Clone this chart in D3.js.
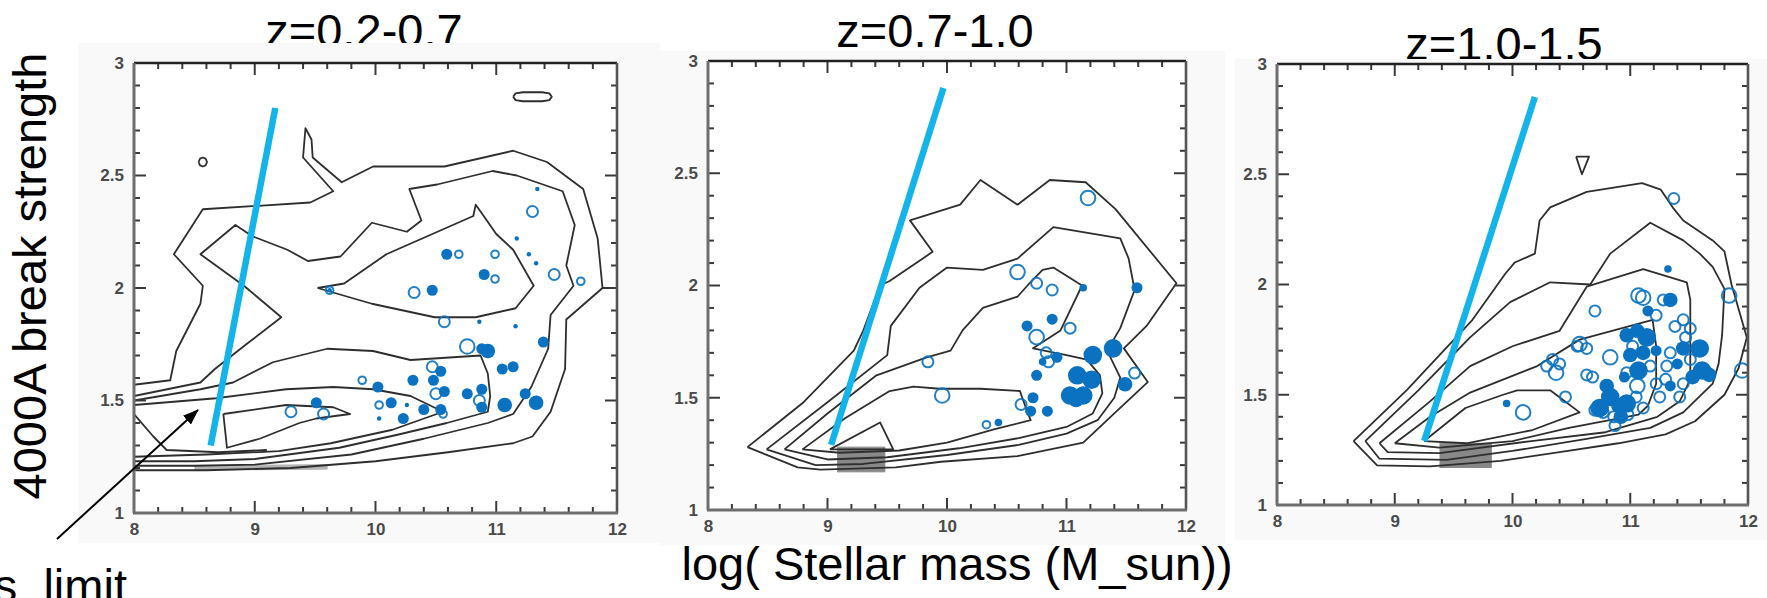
<!DOCTYPE html>
<html><head><meta charset="utf-8">
<script src="https://cdn.jsdelivr.net/npm/d3@7"></script>
<style>html,body{margin:0;padding:0;background:#fff;overflow:hidden}svg{display:block}</style>
</head><body>
<svg id="chart" width="1767" height="598"></svg>
<script>
// ---------------- DATA ----------------
const titles = ["z=0.2-0.7", "z=0.7-1.0", "z=1.0-1.5"];
const xTickValues = [8, 9, 10, 11, 12];
const yTickValues = [1, 1.5, 2, 2.5, 3];
const xTickLabels = ["8", "9", "10", "11", "12"];
const yTickLabels = ["1", "1.5", "2", "2.5", "3"];
const yAxisTitle = "4000A break strength";
const xAxisTitle = "log( Stellar mass (M_sun))";
const noteText = "mass_limit";

// contour polylines [logM, D4000]
const contours1 = [
  [[8,1.57],[8.30,1.59],[8.35,1.72],[8.55,1.93],[8.57,2.01],[8.33,2.15],[8.57,2.35],[9.46,2.38],[9.65,2.43],[9.40,2.58],[9.42,2.71],[9.47,2.66],[9.48,2.58],[9.72,2.47],[9.98,2.54],[10.57,2.54],[11.14,2.61],[11.42,2.56],[11.72,2.44],[11.84,2.22],[11.88,2.0],[12,2.0]],
  [[11.88,2.0],[11.58,1.86],[11.57,1.64],[11.45,1.45],[11.30,1.34],[11.14,1.31],[10.6,1.27],[10.0,1.23],[9.3,1.20],[8.6,1.19],[8,1.19]],
  [[8,1.52],[8.55,1.58],[8.67,1.64],[8.93,1.75],[9.22,1.87],[8.91,2.01],[8.55,2.15],[8.84,2.28],[8.98,2.23],[9.27,2.17],[9.44,2.12],[9.71,2.14],[9.97,2.29],[10.26,2.25],[10.38,2.30],[10.28,2.44],[10.51,2.46],[10.97,2.52],[11.17,2.50],[11.55,2.43],[11.65,2.28],[11.58,2.10],[11.64,2.01],[11.45,1.88],[11.43,1.73],[11.29,1.56],[11.14,1.44],[10.93,1.40],[10.4,1.33],[9.8,1.26],[9.0,1.215],[8.5,1.21],[8,1.21]],
  [[8,1.50],[8.55,1.55],[8.82,1.58],[9.15,1.67],[9.60,1.73],[9.98,1.72],[10.29,1.68],[10.87,1.70],[10.93,1.62],[10.95,1.52],[10.93,1.45],[10.59,1.40],[10.2,1.35],[9.7,1.29],[9.0,1.24],[8.5,1.23],[8,1.23]],
  [[8,1.48],[8.68,1.51],[9.26,1.55],[9.65,1.56],[9.98,1.55],[10.29,1.52],[10.56,1.45],[10.14,1.37],[9.63,1.31],[9.2,1.275],[8.6,1.26],[8,1.25]],
  [[8.74,1.44],[9.26,1.48],[9.65,1.47],[9.79,1.44],[9.51,1.42],[9.37,1.40],[9.04,1.33],[8.77,1.29],[8.74,1.44]],
  [[8,1.44],[8.16,1.34],[8.27,1.28],[8.7,1.27],[9.1,1.28]],
  [[9.52,2.0],[9.74,2.02],[10.09,2.15],[10.81,2.32],[10.83,2.37],[10.87,2.34],[11.0,2.24],[11.14,2.17],[11.31,2.01],[11.16,1.91],[10.83,1.87],[10.49,1.87],[9.97,1.93],[9.52,2.0]],
  [[11.14,2.85],[11.16,2.865],[11.22,2.87],[11.38,2.87],[11.44,2.865],[11.46,2.85],[11.44,2.835],[11.38,2.83],[11.22,2.83],[11.16,2.835],[11.14,2.85]],
  [[8.535,2.56],[8.547,2.575],[8.57,2.58],[8.593,2.575],[8.605,2.56],[8.593,2.545],[8.57,2.54],[8.547,2.545],[8.535,2.56]]
];
const contours2 = [
  [[8.33,1.28],[8.8,1.48],[9.22,1.71],[9.30,1.80],[9.44,2.0],[9.52,2.02],[9.88,2.15],[9.69,2.29],[10.11,2.36],[10.28,2.47],[10.59,2.36],[10.86,2.47],[11.16,2.46],[11.41,2.34],[11.92,2.01],[11.67,1.82],[11.48,1.72],[11.68,1.57],[11.40,1.43],[11.14,1.30],[10.59,1.24],[9.95,1.215],[9.57,1.19],[8.94,1.18],[8.75,1.19],[8.33,1.28]],
  [[8.49,1.27],[9.0,1.48],[9.50,1.69],[9.53,1.82],[9.77,1.99],[10.0,2.08],[10.30,2.07],[10.59,2.12],[10.89,2.26],[11.45,2.21],[11.52,2.12],[11.57,1.98],[11.45,1.81],[11.34,1.71],[11.45,1.59],[11.40,1.50],[11.26,1.40],[11.0,1.34],[10.6,1.29],[10.0,1.245],[9.3,1.205],[8.9,1.20],[8.49,1.27]],
  [[8.64,1.27],[9.0,1.43],[9.41,1.60],[9.83,1.68],[10.03,1.71],[10.13,1.80],[10.30,1.90],[10.59,1.95],[10.69,2.01],[10.80,2.07],[10.89,2.08],[11.13,2.0],[10.95,1.80],[10.72,1.72],[11.0,1.69],[11.17,1.67],[11.28,1.60],[11.30,1.52],[11.22,1.43],[11.0,1.37],[10.6,1.32],[10.1,1.275],[9.5,1.235],[9.0,1.225],[8.64,1.27]],
  [[8.79,1.27],[9.15,1.41],[9.52,1.53],[9.72,1.55],[9.94,1.54],[10.28,1.54],[10.61,1.53],[10.67,1.44],[10.70,1.40],[10.4,1.36],[10.0,1.30],[9.6,1.265],[9.1,1.255],[8.79,1.27]],
  [[9.02,1.27],[9.44,1.39],[9.55,1.27],[9.02,1.27]]
];
const contours3 = [
  [[8.65,1.29],[9.1,1.52],[9.66,1.84],[9.94,2.05],[10.02,2.10],[10.19,2.14],[10.23,2.29],[10.32,2.35],[10.63,2.42],[11.10,2.46],[11.26,2.43],[11.36,2.35],[11.45,2.29],[11.70,2.20],[11.80,2.15],[11.86,2.0],[11.99,1.76],[11.92,1.62],[11.80,1.50],[11.55,1.38],[11.30,1.32],[10.9,1.28],[10.4,1.24],[9.9,1.20],[9.3,1.175],[8.85,1.18],[8.65,1.29]],
  [[8.75,1.29],[9.2,1.52],[9.64,1.76],[9.98,1.92],[10.32,2.01],[10.66,2.0],[10.83,2.14],[11.17,2.28],[11.45,2.20],[11.59,2.14],[11.70,2.08],[11.80,1.98],[11.78,1.77],[11.75,1.64],[11.70,1.55],[11.45,1.42],[11.17,1.35],[10.63,1.30],[10.0,1.245],[9.44,1.205],[8.87,1.21],[8.75,1.29]],
  [[8.87,1.28],[9.3,1.47],[9.64,1.63],[10.0,1.72],[10.40,1.79],[10.63,1.99],[11.11,2.07],[11.48,2.01],[11.51,1.93],[11.51,1.75],[11.51,1.57],[11.42,1.47],[11.23,1.40],[10.79,1.33],[10.16,1.29],[9.38,1.235],[8.94,1.24],[8.87,1.28]],
  [[9.0,1.28],[9.3,1.40],[9.64,1.51],[10.21,1.63],[10.57,1.75],[11.19,1.84],[11.22,1.72],[11.22,1.55],[11.15,1.45],[11.07,1.41],[10.48,1.35],[10.0,1.29],[9.38,1.26],[9.0,1.28]],
  [[9.25,1.29],[9.6,1.44],[9.92,1.50],[10.04,1.52],[10.32,1.52],[10.57,1.42],[10.17,1.34],[9.61,1.28],[9.25,1.29]],
  [[10.54,2.58],[10.65,2.58],[10.59,2.50],[10.54,2.58]]
];
// densest (filled) contour region
const dense1 = [[8.5,1.19],[9.6,1.195],[9.6,1.215],[8.5,1.21]];
const dense2 = [[9.08,1.17],[9.48,1.17],[9.48,1.28],[9.08,1.28]];
const dense3 = [[9.38,1.17],[9.82,1.17],[9.82,1.28],[9.38,1.28]];

// mass-completeness limit lines
const limit1 = [[8.635,1.30],[9.17,2.80]];
const limit2 = [[9.03,1.29],[9.97,2.88]];
const limit3 = [[9.25,1.29],[10.19,2.85]];

// galaxies: [logM, D4000, size class]
const filled1 = [[11.34,2.44,1],[11.17,2.22,1],[11.27,2.15,1],[11.33,2.11,1],[10.59,2.15,3],[10.90,2.06,3],[10.47,1.99,3],[10.86,1.85,1],[11.16,1.83,1],[11.39,1.76,3],[10.93,1.72,4],[10.88,1.73,3],[11.05,1.64,3],[11.14,1.65,3],[10.54,1.63,3],[10.02,1.56,3],[10.31,1.59,3],[10.48,1.59,3],[10.57,1.54,3],[10.76,1.53,3],[10.88,1.55,3],[10.88,1.47,3],[11.07,1.48,4],[11.24,1.53,3],[11.33,1.49,4],[10.13,1.49,3],[10.26,1.48,1],[10.40,1.46,3],[10.54,1.46,3],[10.23,1.42,3],[10.03,1.42,1],[9.51,1.49,3],[9.62,1.99,1]];
const open1 = [[11.30,2.34,3],[11.48,2.06,3],[11.70,2.03,2],[10.99,2.15,2],[10.69,2.15,2],[10.99,2.04,2],[10.32,1.98,3],[9.62,1.99,2],[10.57,1.85,3],[10.76,1.74,4],[10.47,1.65,3],[9.89,1.59,2],[10.50,1.53,3],[10.86,1.50,3],[10.03,1.48,2],[10.56,1.44,2],[9.30,1.45,3],[9.57,1.44,3]];
const filled2 = [[11.14,1.99,2],[11.59,1.99,3],[10.67,1.82,3],[10.88,1.85,3],[10.92,1.68,3],[11.22,1.69,5],[11.39,1.72,5],[10.75,1.60,3],[11.09,1.60,5],[11.21,1.58,5],[11.03,1.51,5],[11.14,1.51,5],[11.08,1.49,4],[10.72,1.50,3],[11.49,1.56,4],[10.70,1.44,3],[10.84,1.44,3],[10.43,1.39,2],[10.80,1.66,2]];
const open2 = [[11.18,2.39,4],[10.59,2.06,4],[10.75,2.01,3],[10.88,1.98,3],[11.03,1.81,3],[10.75,1.77,4],[10.83,1.70,3],[10.85,1.66,3],[9.84,1.66,3],[9.96,1.51,4],[11.57,1.61,3],[10.62,1.47,3],[10.33,1.38,2]];
const filled3 = [[11.32,2.07,2],[11.34,1.93,4],[11.15,1.88,3],[11.06,1.79,4],[10.97,1.77,4],[11.14,1.76,5],[11.11,1.69,4],[11.22,1.70,3],[11.45,1.71,4],[11.07,1.61,5],[10.80,1.54,4],[10.83,1.49,5],[10.74,1.44,5],[10.97,1.46,5],[11.34,1.54,3],[9.95,1.46,2],[10.92,1.40,4],[11.59,1.71,5],[11.61,1.61,5],[11.67,1.59,4],[11.53,1.58,4],[10.90,1.45,4],[11.40,1.64,3],[11.00,1.68,4],[10.95,1.58,3]];
const open3 = [[11.37,2.39,3],[11.84,1.95,4],[11.95,1.61,4],[11.11,1.94,4],[10.70,1.88,3],[11.22,1.86,3],[11.45,1.84,3],[11.51,1.80,3],[11.47,1.76,3],[10.57,1.73,4],[10.63,1.71,3],[10.83,1.67,4],[11.02,1.72,3],[11.34,1.69,3],[11.51,1.66,3],[10.34,1.66,3],[10.29,1.63,3],[10.40,1.64,3],[10.37,1.60,4],[10.97,1.60,3],[11.17,1.63,3],[11.31,1.63,3],[10.68,1.58,3],[10.77,1.42,3],[11.06,1.54,4],[11.22,1.55,3],[11.45,1.55,3],[11.11,1.44,3],[11.25,1.49,3],[11.42,1.49,3],[10.45,1.49,3],[10.09,1.42,4],[10.70,1.43,3],[10.86,1.40,3],[10.87,1.36,3],[10.98,1.41,3],[10.63,1.59,3],[11.07,1.95,4],[11.28,1.93,3],[10.55,1.72,3],[11.38,1.81,3],[11.05,1.49,3],[11.30,1.57,3]];

// ---------------- LAYOUT ----------------
const panels = [
  {title: titles[0], contours: contours1, dense: dense1, denseFill: "#b4b4b4", limit: limit1, filled: filled1, open: open1,
   px: [134, 617], py: [513, 63], img: [78, 43, 582, 500], tpos: [364, 47]},
  {title: titles[1], contours: contours2, dense: dense2, denseFill: "#888", limit: limit2, filled: filled2, open: open2,
   px: [708, 1186], py: [510, 61], img: [660, 51, 565, 494], tpos: [935, 47]},
  {title: titles[2], contours: contours3, dense: dense3, denseFill: "#888", limit: limit3, filled: filled3, open: open3,
   px: [1277, 1748], py: [505, 64], img: [1235, 59, 532, 481], tpos: [1504, 60]}
];
const FONT = "'Liberation Sans', Arial, sans-serif";
const BLUE = "#0a72c0";
const CYAN = "#12b4ea";
const sizeR = d3.scaleOrdinal().domain([1,2,3,4,5]).range([2.2, 3.8, 5.5, 7.3, 9.3]);

const svg = d3.select("#chart");
const defs = svg.append("defs");
defs.append("marker").attr("id","arr").attr("viewBox","0 0 16 12").attr("refX",15).attr("refY",6)
  .attr("markerWidth",16).attr("markerHeight",12).attr("markerUnits","userSpaceOnUse").attr("orient","auto")
  .append("path").attr("d","M0,0 L16,6 L0,12 z").attr("fill","#000");

panels.forEach((p, i) => {
  const x = d3.scaleLinear().domain([8, 12]).range(p.px);
  const y = d3.scaleLinear().domain([1, 3]).range(p.py);
  const g = svg.append("g");

  // title (bottom edge slightly covered by the embedded plot image)
  g.append("text").attr("x", p.tpos[0]).attr("y", p.tpos[1]).attr("text-anchor", "middle")
    .attr("font-family", FONT).attr("font-size", 47).attr("fill", "#000").text(p.title);
  g.append("rect").attr("x", p.img[0]).attr("y", p.img[1]).attr("width", p.img[2]).attr("height", p.img[3])
    .attr("fill", "#f9f9f9");
  g.append("rect").attr("x", p.px[0]).attr("y", p.py[1]).attr("width", p.px[1]-p.px[0]).attr("height", p.py[0]-p.py[1])
    .attr("fill", "#fff");

  const cid = "clip" + i;
  defs.append("clipPath").attr("id", cid).append("rect")
    .attr("x", p.px[0]).attr("y", p.py[1]).attr("width", p.px[1]-p.px[0]).attr("height", p.py[0]-p.py[1]);
  const plot = g.append("g").attr("clip-path", `url(#${cid})`);

  const line = d3.line().x(d => x(d[0])).y(d => y(d[1]));
  plot.append("path").datum(p.dense).attr("d", line).attr("fill", p.denseFill).attr("stroke", p.denseFill).attr("stroke-width", 1);
  plot.selectAll("path.ct").data(p.contours).join("path").attr("class", "ct")
    .attr("d", line).attr("fill", "none").attr("stroke", "#2e2e2e").attr("stroke-width", 1.8)
    .attr("stroke-linejoin", "round");

  plot.append("path").datum(p.limit).attr("d", line).attr("stroke", CYAN).attr("stroke-width", 6.5).attr("fill", "none");

  plot.selectAll("circle.op").data(p.open).join("circle").attr("class", "op")
    .attr("cx", d => x(d[0])).attr("cy", d => y(d[1])).attr("r", d => sizeR(d[2]))
    .attr("fill", "none").attr("stroke", BLUE).attr("stroke-width", 2).attr("stroke-opacity", 0.9);
  plot.selectAll("circle.fi").data(p.filled).join("circle").attr("class", "fi")
    .attr("cx", d => x(d[0])).attr("cy", d => y(d[1])).attr("r", d => sizeR(d[2]))
    .attr("fill", BLUE);

  // ticks on all four sides, pointing inward
  const xMinor = d3.range(8, 12.001, 0.2);
  const yMinor = d3.range(1, 3.001, 0.1);
  const isMajX = v => Math.abs(v - Math.round(v)) < 1e-6;
  const isMajY = v => Math.abs(v*2 - Math.round(v*2)) < 1e-6;
  const tk = g.append("g").attr("stroke", "#3a3a3a").attr("stroke-width", 2);
  xMinor.forEach(v => {
    const L = isMajX(v) ? 12 : 6;
    tk.append("line").attr("x1", x(v)).attr("x2", x(v)).attr("y1", p.py[0]).attr("y2", p.py[0]-L);
    tk.append("line").attr("x1", x(v)).attr("x2", x(v)).attr("y1", p.py[1]).attr("y2", p.py[1]+L);
  });
  yMinor.forEach(v => {
    const L = isMajY(v) ? 12 : 6;
    tk.append("line").attr("y1", y(v)).attr("y2", y(v)).attr("x1", p.px[0]).attr("x2", p.px[0]+L);
    tk.append("line").attr("y1", y(v)).attr("y2", y(v)).attr("x1", p.px[1]).attr("x2", p.px[1]-L);
  });
  // frame
  g.append("line").attr("x1", p.px[0]).attr("x2", p.px[1]).attr("y1", p.py[1]).attr("y2", p.py[1]).attr("stroke", "#222").attr("stroke-width", 2.4);
  g.append("line").attr("x1", p.px[1]).attr("x2", p.px[1]).attr("y1", p.py[1]).attr("y2", p.py[0]).attr("stroke", "#555").attr("stroke-width", 2.6);
  g.append("line").attr("x1", p.px[0]).attr("x2", p.px[0]).attr("y1", p.py[1]).attr("y2", p.py[0]).attr("stroke", "#6e6e6e").attr("stroke-width", 3);
  g.append("line").attr("x1", p.px[0]-1).attr("x2", p.px[1]+1).attr("y1", p.py[0]).attr("y2", p.py[0]).attr("stroke", "#6e6e6e").attr("stroke-width", 3);

  // tick labels via d3 axes (lines hidden, only text kept)
  const ax = g.append("g").attr("transform", `translate(0,${p.py[0]})`)
    .call(d3.axisBottom(x).tickValues(xTickValues).tickFormat((d, k) => xTickLabels[k]).tickSize(0).tickPadding(10));
  const ay = g.append("g").attr("transform", `translate(${p.px[0]},0)`)
    .call(d3.axisLeft(y).tickValues(yTickValues).tickFormat((d, k) => yTickLabels[k]).tickSize(0).tickPadding(10));
  [ax, ay].forEach(a => {
    a.select(".domain").remove();
    a.selectAll("text").attr("font-family", FONT).attr("font-size", 17)
      .attr("font-weight", "bold").attr("fill", "#4a4a4a");
  });
});

// axis titles
svg.append("text").attr("transform", "translate(46,276) rotate(-90)").attr("text-anchor", "middle")
  .attr("font-family", FONT).attr("font-size", 47).attr("fill", "#000").text(yAxisTitle);
svg.append("text").attr("x", 957).attr("y", 580).attr("text-anchor", "middle")
  .attr("font-family", FONT).attr("font-size", 47).attr("fill", "#000").text(xAxisTitle);

// annotation arrow + label
svg.append("line").attr("x1", 57).attr("y1", 539).attr("x2", 198).attr("y2", 410)
  .attr("stroke", "#000").attr("stroke-width", 2).attr("marker-end", "url(#arr)");
svg.append("text").attr("x", -95).attr("y", 602).attr("font-family", FONT).attr("font-size", 47)
  .attr("fill", "#000").text(noteText);
</script>
</body></html>
